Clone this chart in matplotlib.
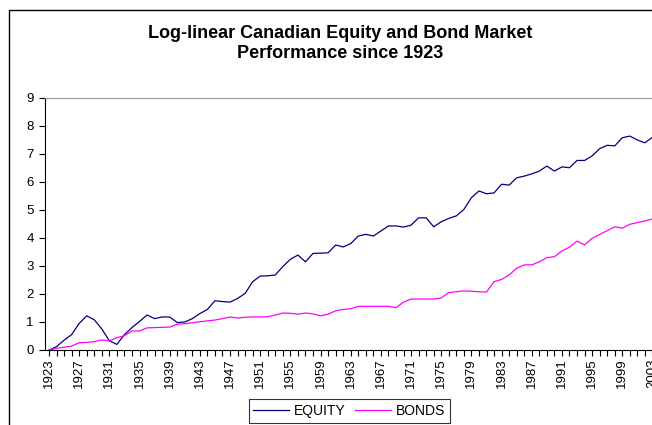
import matplotlib
matplotlib.use("Agg")
import matplotlib.pyplot as plt
from matplotlib.patches import Rectangle

years = list(range(1923, 2004))

equity = [0.00, 0.12, 0.35, 0.55, 0.95, 1.22, 1.08, 0.75, 0.33, 0.20,
          0.55, 0.80, 1.02, 1.25, 1.12, 1.18, 1.18, 0.98, 1.00, 1.12,
          1.30, 1.45, 1.76, 1.73, 1.71, 1.84, 2.02, 2.44, 2.64, 2.65,
          2.68, 2.98, 3.24, 3.39, 3.15, 3.45, 3.46, 3.47, 3.75, 3.68,
          3.80, 4.07, 4.13, 4.07, 4.25, 4.43, 4.43, 4.39, 4.46, 4.72,
          4.72, 4.40, 4.58, 4.70, 4.79, 5.02, 5.44, 5.68, 5.58, 5.61,
          5.92, 5.89, 6.15, 6.21, 6.29, 6.39, 6.57, 6.39, 6.54, 6.51,
          6.77, 6.77, 6.93, 7.19, 7.31, 7.29, 7.58, 7.64, 7.50, 7.40,
          7.60]

bonds = [0.00, 0.06, 0.10, 0.14, 0.26, 0.27, 0.30, 0.36, 0.33, 0.44,
         0.51, 0.68, 0.68, 0.79, 0.80, 0.81, 0.82, 0.92, 0.94, 0.97,
         1.01, 1.04, 1.07, 1.12, 1.18, 1.14, 1.17, 1.18, 1.18, 1.19,
         1.25, 1.32, 1.31, 1.28, 1.32, 1.29, 1.22, 1.28, 1.40, 1.45,
         1.47, 1.56, 1.56, 1.56, 1.56, 1.56, 1.51, 1.71, 1.82, 1.82,
         1.82, 1.82, 1.86, 2.05, 2.08, 2.11, 2.10, 2.08, 2.07, 2.44,
         2.52, 2.68, 2.92, 3.04, 3.04, 3.15, 3.30, 3.33, 3.54, 3.67,
         3.89, 3.75, 3.99, 4.13, 4.26, 4.40, 4.35, 4.49, 4.55, 4.61,
         4.68]

year_labels = years[::4]

plt.rcParams['font.family'] = ['Liberation Sans', 'DejaVu Sans']

W, H = 652, 425
fig = plt.figure(figsize=(W / 100, H / 100), dpi=100)

# outer chart border (runs off the right/bottom edge)
fig.patches.append(Rectangle((9 / W, -0.1), 1.2, 1.1 - 10 / H,
                             transform=fig.transFigure, fill=False,
                             edgecolor='black', linewidth=1.0))

ax = fig.add_axes([45 / W, 1 - 350 / H, 615 / W, 252 / H])
ax.plot(years, equity, color='#000080', linewidth=0.9, label='EQUITY')
ax.plot(years, bonds, color='#FF00FF', linewidth=0.9, label='BONDS')

ax.set_xlim(1922.47, 2004.0)
ax.set_ylim(0, 9)
ax.set_yticks(range(0, 10))
ax.set_xticks(year_labels)
ax.set_xticklabels([str(y) for y in year_labels], rotation=90)
ax.set_xticks(years, minor=True)
ax.tick_params(axis='both', which='both', direction='out', labelsize=9.5,
               colors='black')
ax.tick_params(axis='x', which='both', length=4, width=0.8, pad=2)
ax.tick_params(axis='y', length=4, width=0.8, pad=4)

ax.spines['left'].set_color('black')
ax.spines['bottom'].set_color('black')
ax.spines['top'].set_color('#999999')
ax.spines['right'].set_visible(False)

fig.text(340 / W, 1 - 33 / H, 'Log-linear Canadian Equity and Bond Market',
         ha='center', va='center', fontsize=13, fontweight='bold')
fig.text(340 / W, 1 - 54 / H, 'Performance since 1923',
         ha='center', va='center', fontsize=13, fontweight='bold')

leg = fig.legend(loc='center', bbox_to_anchor=(349 / W, 1 - 411 / H), ncol=2,
                 fontsize=10, frameon=True, fancybox=False, borderpad=0.35,
                 handlelength=2.6, columnspacing=0.7, handletextpad=0.3)
leg.get_frame().set_edgecolor('black')
leg.get_frame().set_linewidth(0.8)

fig.savefig('out.png', dpi=100)
